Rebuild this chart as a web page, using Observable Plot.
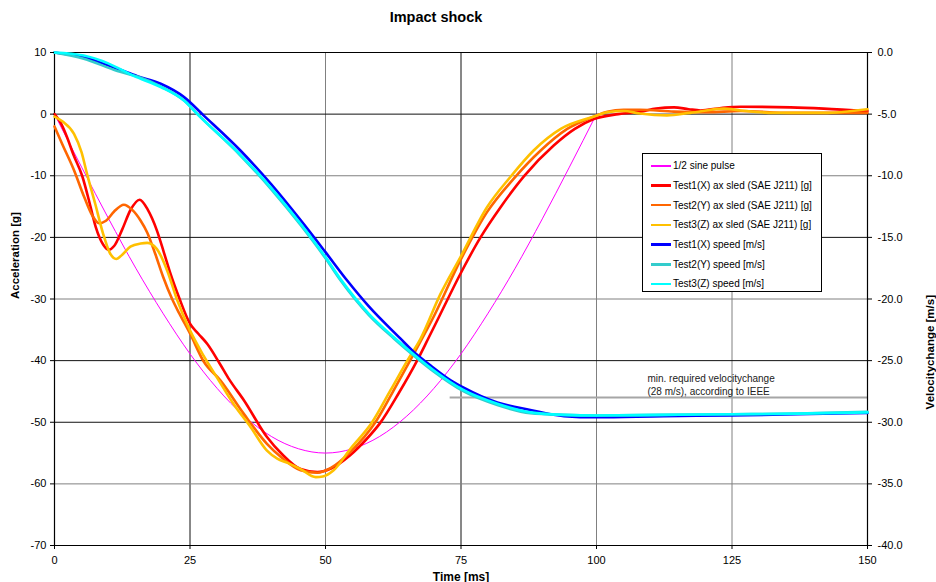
<!DOCTYPE html>
<html><head><meta charset="utf-8">
<script src="https://cdn.jsdelivr.net/npm/d3@7"></script>
<script src="https://cdn.jsdelivr.net/npm/@observablehq/plot@0.6"></script>
<style>
body{margin:0;background:#fff;font-family:"Liberation Sans",Arial,sans-serif;}
#wrap{position:relative;width:936px;height:582px;overflow:hidden;}
#legend{position:absolute;left:642px;top:153px;width:180px;height:139px;border:1px solid #000;background:#fff;box-sizing:border-box;padding-top:2px;font-size:10px;color:#000;}
.item{height:19.7px;display:flex;align-items:center;white-space:nowrap;}
.sw{width:20px;margin-left:8px;margin-right:2px;display:inline-block;}
</style></head><body><div id="wrap"></div>
<script>
// ---- data ----
const title = "Impact shock";
const xLabel = "Time [ms]";
const yLabel = "Acceleration [g]";
const y2Label = "Velocitychange [m/s]";
const xTicks = [0, 25, 50, 75, 100, 125, 150];
const yTicks = [10, 0, -10, -20, -30, -40, -50, -60, -70];
const y2Ticks = [0, -5, -10, -15, -20, -25, -30, -35, -40];

const seriesNames = ["1/2 sine pulse", "Test1(X) ax sled (SAE J211) [g]", "Test2(Y) ax sled (SAE J211) [g]", "Test3(Z) ax sled (SAE J211) [g]", "Test1(X) speed [m/s]", "Test2(Y) speed [m/s]", "Test3(Z) speed [m/s]"];
const seriesColors = ["#ff00ff", "#ff0000", "#ff6600", "#ffc000", "#0000ff", "#33cccc", "#00ffff"];

// half sine pulse [g]
const t0 = [0, 5, 10, 15, 20, 25, 30, 35, 40, 45, 50, 55, 60, 65, 70, 75, 80, 85, 90, 95, 100];
const a0 = [0, -8.6, -17.0, -25.0, -32.3, -38.9, -44.5, -49.0, -52.3, -54.3, -55.0, -54.3, -52.3, -49.0, -44.5, -38.9, -32.3, -25.0, -17.0, -8.6, 0];

// Test1(X) acceleration [g]
const t1 = [0, 1, 2.3, 3.5, 5.1, 6.5, 7.6, 9, 10, 11, 12.5, 14, 15.7, 17.2, 18.9, 20.2, 21.4, 23, 25, 26.5, 28.2, 30.5, 32.2, 35, 39.2, 42, 45.4, 48.5, 51, 54.6, 57.5, 60.1, 63.5, 66.9, 68.8, 71, 74.9, 78.6, 82.3, 86.6, 92.1, 96, 99.5, 104, 108.1, 111, 114.3, 117, 119.2, 123, 126.6, 135.8, 141.9, 150];
const a1 = [0, -1.2, -3.7, -6.6, -10, -14.5, -18.3, -21.2, -22, -21.4, -18.7, -15.6, -13.9, -15.5, -18.9, -22.5, -25.9, -29.8, -34, -35.6, -37.3, -40.5, -43, -46.5, -52.4, -55.2, -57.6, -58.1, -57.5, -55.3, -52.8, -50.1, -45.3, -40, -36.7, -32.8, -25.9, -20, -15.1, -10.1, -5.1, -2.4, -0.8, 0, 0.4, 0.9, 1.1, 0.8, 0.6, 1.0, 1.2, 1.1, 0.9, 0.5];

// Test2(Y) acceleration [g]
const t2 = [0, 1.5, 3.6, 5.5, 7, 8.2, 9.5, 11, 12.8, 14.3, 15.9, 17.1, 18.6, 20, 21.7, 23, 25, 27.5, 30.6, 34.9, 39.2, 42, 45.4, 48.5, 51, 54.6, 59.2, 62.4, 65.6, 70, 74.9, 79.8, 84.7, 89.7, 94.6, 99.5, 102, 105, 108, 114.3, 120.4, 126.6, 135.8, 150];
const a2 = [-2, -5, -9.1, -13.5, -16.5, -17.7, -17.3, -15.8, -14.7, -15.5, -17.3, -19.2, -22.7, -26.3, -30, -32.3, -35.6, -40.1, -43.2, -48.6, -53.5, -55.8, -57.8, -58.2, -57.4, -54.8, -50, -45.1, -40, -32.8, -23.7, -15.9, -10.5, -5.9, -2.4, -0.4, 0.4, 0.7, 0.7, 0.4, 0.3, 0.5, 0.2, 0.2];

// Test3(Z) acceleration [g]
const t3 = [0, 1.5, 3.6, 5, 6, 7.5, 9, 10.2, 11.4, 12.5, 14, 15.9, 17.1, 18.9, 20.8, 22.6, 25, 27.5, 30.3, 33, 36.2, 39.2, 41.1, 43, 45.4, 48.2, 49.5, 51.5, 54.6, 58.6, 62, 65.1, 67.5, 71.2, 74.9, 79.8, 84.1, 88.4, 93.4, 99.5, 102, 105, 108, 113, 117.3, 123.5, 126.6, 132.8, 141.9, 150];
const a3 = [-0.4, -1.2, -3.2, -6.2, -9.7, -14.5, -19.5, -22.5, -23.5, -22.8, -21.5, -21.0, -20.9, -21.9, -25.4, -30.1, -35.1, -39.2, -43.2, -47.0, -50.8, -54.6, -55.9, -56.6, -57.6, -58.9, -58.8, -57.8, -54.3, -50.0, -44.8, -40.0, -36.5, -29.2, -23.2, -15.1, -10.2, -5.9, -2.4, -0.4, 0.3, 0.5, 0.1, -0.2, 0.2, 0.9, 0.6, 0.2, 0.2, 0.8];

// speeds [m/s]
const vt1 = [0, 5.4, 11.6, 15.3, 19.6, 23.9, 27.5, 34.3, 40, 45.4, 50, 54, 58, 63.8, 66.3, 69.4, 73.1, 75.5, 81.7, 87.8, 94, 100, 112.4, 124.7, 137, 150];
const v1 = [0, -0.38, -1.32, -1.92, -2.54, -3.62, -5.1, -7.95, -10.7, -13.6, -16.2, -18.5, -20.6, -23.2, -24.3, -25.4, -26.6, -27.2, -28.4, -29.0, -29.5, -29.6, -29.5, -29.45, -29.35, -29.25];
const vt2 = [0, 5.4, 11.6, 15.3, 19.6, 23.9, 26.6, 34.3, 40, 45.4, 50, 52.8, 58, 62.6, 66.3, 70, 75.5, 81.7, 87.8, 94, 100, 112, 125, 137, 150];
const v2 = [0, -0.5, -1.5, -1.95, -2.75, -3.9, -5.1, -8.36, -11.1, -14.0, -16.7, -18.5, -21.3, -23.2, -24.6, -25.9, -27.5, -28.6, -29.26, -29.4, -29.45, -29.4, -29.35, -29.3, -29.15];
const vt3 = [0, 5.4, 10, 14.6, 19.6, 23.9, 26.6, 34.3, 40, 45.4, 50, 52.8, 58, 62.6, 66.3, 70, 75.5, 81.7, 87.8, 94, 100, 112, 125, 137, 150];
const v3 = [0, -0.25, -0.9, -1.9, -2.8, -3.9, -5.1, -8.3, -11.0, -13.9, -16.6, -18.4, -21.2, -23.1, -24.5, -25.8, -27.4, -28.5, -29.2, -29.4, -29.45, -29.4, -29.35, -29.3, -29.2];

// required velocity change reference
const refV = -28;
const refStart = 73;
const refText = "min. required velocitychange\n(28 m/s), according to IEEE";
const refTextX = 109.4;

// ---- scales: right axis (m/s) mapped onto left axis (g): 0 m/s -> 10 g, -40 m/s -> -70 g
const velToAcc = v => 10 + 2 * v;
const accToVel = a => (a - 10) / 2;

const gridX = [25, 50, 75, 100, 125];
const gridXDark = [true, false, true, false, false];
const gridY = [0, -10, -20, -30, -40, -50, -60];
const gridYDark = [true, false, true, false, true, true, false];

const font = "'Liberation Sans', Arial, sans-serif";
const lw = 2.6;

const chart = Plot.plot({
  width: 936, height: 582,
  marginLeft: 54, marginRight: 69, marginTop: 52, marginBottom: 37,
  x: {domain: [0, 150]},
  y: {domain: [-70, 10]},
  style: {fontFamily: font, fontSize: "11px", background: "#fff", color: "#000", overflow: "visible"},
  marks: [
    Plot.ruleX(gridX, {stroke: (d, i) => gridXDark[i] ? "#111" : "#808080", strokeWidth: 1}),
    Plot.ruleY(gridY, {stroke: (d, i) => gridYDark[i] ? "#111" : "#808080", strokeWidth: 1}),
    Plot.ruleY([10], {stroke: "#000", strokeWidth: 1}),
    Plot.ruleY([refV], {y: velToAcc, x1: refStart, x2: 150, stroke: "#a6a6a6", strokeWidth: 2}),
    Plot.ruleX([0, 150], {stroke: "#000", strokeWidth: 1.2}),
    Plot.ruleY([-70], {stroke: "#000", strokeWidth: 1.2}),
    Plot.line(a0, {x: t0, y: a0, stroke: seriesColors[0], strokeWidth: 1, curve: "monotone-x"}),
    Plot.line(a1, {x: t1, y: a1, stroke: seriesColors[1], strokeWidth: lw, curve: "monotone-x"}),
    Plot.line(a2, {x: t2, y: a2, stroke: seriesColors[2], strokeWidth: lw, curve: "monotone-x"}),
    Plot.line(a3, {x: t3, y: a3, stroke: seriesColors[3], strokeWidth: lw, curve: "monotone-x"}),
    Plot.line(v1, {x: vt1, y: v1.map(velToAcc), stroke: seriesColors[4], strokeWidth: lw, curve: "monotone-x"}),
    Plot.line(v2, {x: vt2, y: v2.map(velToAcc), stroke: seriesColors[5], strokeWidth: lw, curve: "monotone-x"}),
    Plot.line(v3, {x: vt3, y: v3.map(velToAcc), stroke: seriesColors[6], strokeWidth: lw, curve: "monotone-x"}),
    Plot.axisX({ticks: xTicks, tickSize: 4, tickPadding: 7, label: null, tickFormat: d => String(d), fontSize: 11}),
    Plot.axisY({ticks: yTicks, tickSize: 4, tickPadding: 4, label: null, tickFormat: d => String(d), fontSize: 11}),
    Plot.axisY(y2Ticks.map(velToAcc), {anchor: "right", tickSize: 4, tickPadding: 6, label: null, tickFormat: d => accToVel(d).toFixed(1), fontSize: 11}),
    Plot.text([refText], {x: refTextX, y: velToAcc(refV), text: d => d, textAnchor: "start", lineAnchor: "bottom", dy: -3, fontSize: 10, lineHeight: 1.3, fill: "#222"}),
    Plot.text([title], {frameAnchor: "top", text: d => d, dx: -25, dy: -31, lineAnchor: "bottom", fontSize: 14.5, fontWeight: "bold"}),
    Plot.text([xLabel], {frameAnchor: "bottom", text: d => d, dy: 35, lineAnchor: "bottom", fontSize: 12, fontWeight: "bold"}),
    Plot.text([yLabel], {frameAnchor: "left", text: d => d, dx: -39, rotate: -90, fontSize: 11.5, fontWeight: "bold"}),
    Plot.text([y2Label], {frameAnchor: "right", text: d => d, dx: 63, dy: -4, rotate: -90, fontSize: 11.5, fontWeight: "bold"})
  ]
});

const wrap = document.getElementById("wrap");
wrap.appendChild(chart);

const legend = document.createElement("div");
legend.id = "legend";
seriesNames.forEach((name, i) => {
  const it = document.createElement("div");
  it.className = "item";
  const sw = document.createElement("span");
  sw.className = "sw";
  sw.style.background = seriesColors[i];
  sw.style.height = (i === 0 ? 1.5 : 2.5) + "px";
  const tx = document.createElement("span");
  tx.textContent = name;
  it.appendChild(sw); it.appendChild(tx);
  legend.appendChild(it);
});
wrap.appendChild(legend);
</script>
</body></html>
